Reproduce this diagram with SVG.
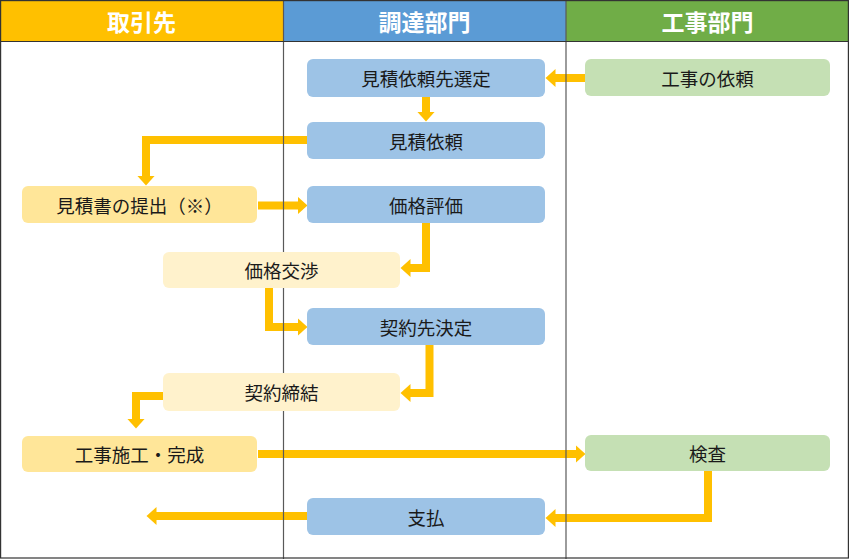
<svg xmlns="http://www.w3.org/2000/svg" width="849" height="559" viewBox="0 0 849 559">
<style>
.hd{font-family:"Noto Sans CJK JP","Noto Sans",sans-serif;font-size:23px;font-weight:bold;fill:#ffffff;text-anchor:middle;dominant-baseline:central}
.tx{font-family:"Noto Sans CJK JP","Noto Sans",sans-serif;font-size:18.5px;fill:#1a1a1a;text-anchor:middle;dominant-baseline:central}
.blue{fill:#9DC3E6}
.green{fill:#C5E0B4}
.yel{fill:#FFE699}
.lyel{fill:#FFF2CC}
.arr{fill:none;stroke:#FFC000;stroke-width:8;stroke-linejoin:miter}
.lane{stroke:#595959;stroke-width:1.2}
</style>
<defs>
<marker id="ah" markerUnits="userSpaceOnUse" markerWidth="11" markerHeight="18" refX="0.5" refY="9" orient="auto">
<path d="M0,0 L10,9 L0,18 z" fill="#FFC000"/>
</marker>
</defs>
<rect x="0" y="0" width="849" height="559" fill="#ffffff"/>
<g id="header">
<rect x="0" y="0" width="283" height="41" fill="#FFC000"/>
<rect x="283" y="0" width="283" height="41" fill="#5B9BD5"/>
<rect x="566" y="0" width="283" height="41" fill="#70AD47"/>
<text class="hd" x="141.5" y="21">取引先</text>
<text class="hd" x="424.5" y="21">調達部門</text>
<text class="hd" x="707.5" y="21">工事部門</text>
</g>
<g id="connectors">
<path class="arr" d="M585,78 H555" marker-end="url(#ah)"/>
<path class="arr" d="M426,97 V112" marker-end="url(#ah)"/>
<path class="arr" d="M307,140 H146 V176" marker-end="url(#ah)"/>
<path class="arr" d="M258,205.5 H298" marker-end="url(#ah)"/>
<path class="arr" d="M426,223 V268 H410" marker-end="url(#ah)"/>
<path class="arr" d="M269,288 V327 H298" marker-end="url(#ah)"/>
<path class="arr" d="M429.5,345 V393 H410" marker-end="url(#ah)"/>
<path class="arr" d="M163,396 H136 V419" marker-end="url(#ah)"/>
<path class="arr" d="M258,454 H576" marker-end="url(#ah)"/>
<path class="arr" d="M708,471 V518 H555" marker-end="url(#ah)"/>
<path class="arr" d="M307,516 H156" marker-end="url(#ah)"/>
</g>
<g id="lanes">
<line class="lane" x1="283.5" y1="0" x2="283.5" y2="559"/>
<line class="lane" x1="566" y1="0" x2="566" y2="559"/>
<line x1="0" y1="41.5" x2="849" y2="41.5" stroke="#333333" stroke-width="1.2"/>
<rect x="0.6" y="0.6" width="847.8" height="557.4" fill="none" stroke="#333333" stroke-width="1.2"/>
</g>
<g id="n1"><rect class="blue" x="307" y="59" width="238" height="38" rx="6"/><text class="tx" x="426" y="78">見積依頼先選定</text></g>
<g id="n2"><rect class="green" x="585" y="59" width="245" height="37" rx="6"/><text class="tx" x="707.5" y="77.5">工事の依頼</text></g>
<g id="n3"><rect class="blue" x="307" y="122" width="238" height="37" rx="6"/><text class="tx" x="426" y="140.5">見積依頼</text></g>
<g id="n4"><rect class="yel" x="22" y="186" width="235" height="37" rx="6"/><text class="tx" x="139.5" y="204.5">見積書の提出（※）</text></g>
<g id="n5"><rect class="blue" x="307" y="186" width="238" height="37" rx="6"/><text class="tx" x="426" y="204.5">価格評価</text></g>
<g id="n6"><rect class="lyel" x="163" y="252" width="237" height="36" rx="6"/><text class="tx" x="281.5" y="270">価格交渉</text></g>
<g id="n7"><rect class="blue" x="307" y="308" width="238" height="37" rx="6"/><text class="tx" x="426" y="326.5">契約先決定</text></g>
<g id="n8"><rect class="lyel" x="163" y="373" width="237" height="38" rx="6"/><text class="tx" x="281.5" y="392">契約締結</text></g>
<g id="n9"><rect class="yel" x="22" y="436" width="235" height="36" rx="6"/><text class="tx" x="139.5" y="454">工事施工・完成</text></g>
<g id="n10"><rect class="green" x="585" y="435" width="245" height="36" rx="6"/><text class="tx" x="707.5" y="453">検査</text></g>
<g id="n11"><rect class="blue" x="307" y="498" width="238" height="37" rx="6"/><text class="tx" x="426" y="516.5">支払</text></g>
</svg>
